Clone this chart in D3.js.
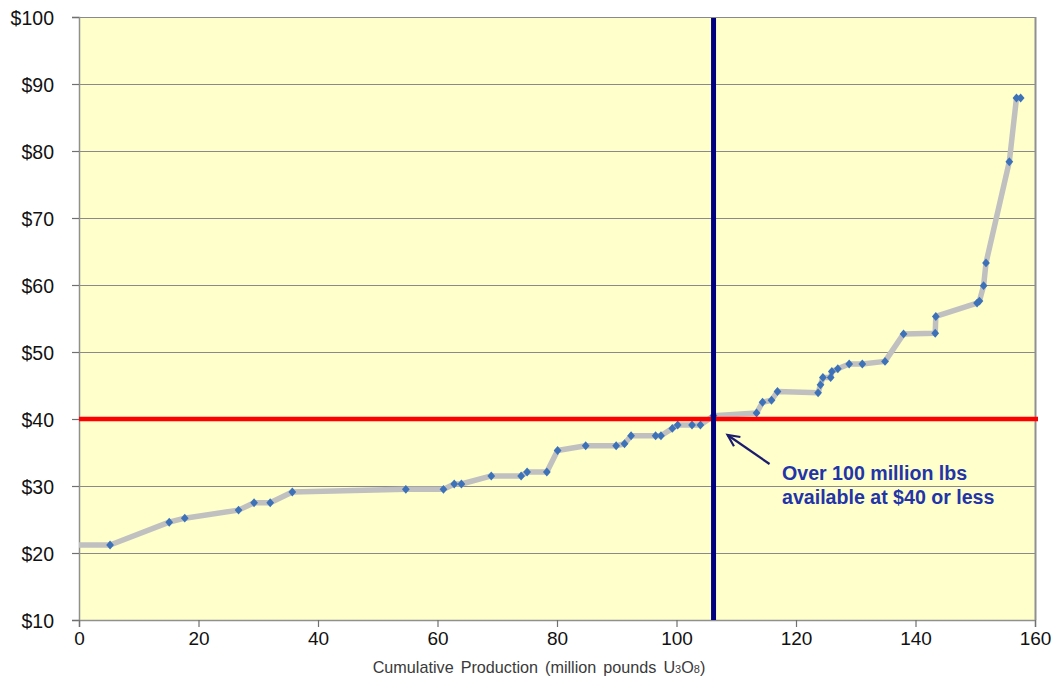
<!DOCTYPE html>
<html>
<head>
<meta charset="utf-8">
<script src="https://cdn.jsdelivr.net/npm/d3@7"></script>
<style>
  html, body { margin: 0; padding: 0; background: #fff; }
  svg { display: block; font-family: "Liberation Sans", Arial, sans-serif; }
</style>
</head>
<body>
<svg id="chart" width="1055" height="678"></svg>
<script>
// ---- data ----
const production = [0, 5.2, 15.1, 17.7, 26.7, 29.3, 32.0, 35.7, 54.7, 61.0, 62.8, 64.0, 69.0, 74.0, 75.0, 78.3, 80.1, 84.8, 89.9, 91.3, 92.4, 96.5, 97.4, 99.3, 100.2, 102.6, 104.0, 106.2, 113.4, 114.4, 115.9, 116.9, 123.7, 124.1, 124.5, 125.8, 126.0, 127.0, 128.9, 131.1, 134.9, 138.0, 143.3, 143.4, 150.3, 150.7, 151.4, 151.8, 155.7, 156.9, 157.6];
const cost       = [21.2, 21.2, 24.6, 25.2, 26.4, 27.5, 27.5, 29.1, 29.5, 29.5, 30.3, 30.3, 31.5, 31.5, 32.1, 32.1, 35.3, 36.0, 36.0, 36.3, 37.5, 37.5, 37.5, 38.6, 39.1, 39.1, 39.1, 40.5, 40.9, 42.5, 42.8, 44.1, 43.9, 45.1, 46.2, 46.2, 47.1, 47.5, 48.2, 48.2, 48.6, 52.7, 52.8, 55.3, 57.3, 57.6, 59.9, 63.3, 78.4, 87.9, 87.9];
const markerShown = production.map((d, i) => i > 0);
const xTicks = [0, 20, 40, 60, 80, 100, 120, 140, 160];
const yTicks = [10, 20, 30, 40, 50, 60, 70, 80, 90, 100];
const thresholdPrice = 40;
const thresholdProduction = 106.2;
const annotationLines = ["Over 100 million lbs", "available at $40 or less"];

// ---- layout ----
const svg = d3.select("#chart");
const mLeft = 79, mRight = 1035, mTop = 17, mBottom = 620;
const x = d3.scaleLinear().domain([0, 160]).range([mLeft, mRight]);
const y = d3.scaleLinear().domain([10, 100]).range([mBottom, mTop]);

// plot background
svg.append("rect").attr("x", mLeft).attr("y", mTop)
  .attr("width", mRight - mLeft).attr("height", mBottom - mTop)
  .attr("fill", "#FFFFCC");

// gridlines
svg.append("g").selectAll("line").data(yTicks.filter(d => d > 10)).join("line")
  .attr("x1", mLeft).attr("x2", mRight)
  .attr("y1", d => y(d) + 0.5).attr("y2", d => y(d) + 0.5)
  .attr("stroke", "#8a8a8a").attr("stroke-width", 1.2);

// right border
svg.append("line").attr("x1", mRight + 0.5).attr("x2", mRight + 0.5)
  .attr("y1", mTop).attr("y2", mBottom)
  .attr("stroke", "#909090").attr("stroke-width", 2);

// y axis
const yAxis = d3.axisLeft(y).tickValues(yTicks).tickSize(7).tickPadding(18)
  .tickFormat(d => "$" + d);
const gy = svg.append("g").attr("transform", `translate(${mLeft},0)`).call(yAxis);
gy.select(".domain").attr("stroke", "#909090").attr("stroke-width", 1.5);
gy.selectAll(".tick line").attr("stroke", "#707070").attr("stroke-width", 1.2);
gy.selectAll(".tick text").attr("font-size", 19.5).attr("fill", "#111")
  .attr("font-family", "'Liberation Sans', Arial, sans-serif").attr("dy", "0.38em");

// x axis
const xAxis = d3.axisBottom(x).tickValues(xTicks).tickSize(7).tickPadding(5);
const gx = svg.append("g").attr("transform", `translate(0,${mBottom})`).call(xAxis);
gx.select(".domain").attr("stroke", "#909090").attr("stroke-width", 1.5);
gx.selectAll(".tick line").attr("stroke", "#707070").attr("stroke-width", 1.2);
gx.selectAll(".tick text").attr("font-size", 19).attr("fill", "#111")
  .attr("font-family", "'Liberation Sans', Arial, sans-serif");

// x axis title with subscripts
const title = svg.append("text").attr("x", 539).attr("y", 673)
  .attr("text-anchor", "middle").attr("font-size", 16.2).attr("fill", "#3a3a3a")
  .attr("word-spacing", "2.5px");
title.append("tspan").text("Cumulative Production (million pounds U");
title.append("tspan").attr("font-size", 11).text("3");
title.append("tspan").text("O");
title.append("tspan").attr("font-size", 11).text("8");
title.append("tspan").text(")");

// data
const data = production.map((p, i) => ({ p, c: cost[i], m: markerShown[i] }));

// series line
svg.append("path").datum(data)
  .attr("fill", "none").attr("stroke", "#c0c0c0").attr("stroke-width", 5.5)
  .attr("stroke-linejoin", "round")
  .attr("d", d3.line().x(d => x(d.p)).y(d => y(d.c)));

// markers (diamonds)
svg.append("g").selectAll("path").data(data.filter(d => d.m)).join("path")
  .attr("transform", d => `translate(${x(d.p)},${y(d.c)}) scale(1,1.15) rotate(45)`)
  .attr("d", d3.symbol().type(d3.symbolSquare).size(30))
  .attr("fill", "#3d72b8");

// red threshold line
svg.append("line").attr("x1", mLeft).attr("x2", mRight + 3)
  .attr("y1", y(thresholdPrice)).attr("y2", y(thresholdPrice))
  .attr("stroke", "#ff0000").attr("stroke-width", 4.5);

// navy vertical line
svg.append("line").attr("x1", x(thresholdProduction)).attr("x2", x(thresholdProduction))
  .attr("y1", mTop + 1).attr("y2", mBottom)
  .attr("stroke", "#000080").attr("stroke-width", 5);

// arrow annotation
const ax0 = x(thresholdProduction) + 56, ay0 = y(thresholdPrice) + 45;
const ax1 = x(thresholdProduction) + 14, ay1 = y(thresholdPrice) + 16;
svg.append("line").attr("x1", ax0).attr("y1", ay0).attr("x2", ax1).attr("y2", ay1)
  .attr("stroke", "#1c1c6e").attr("stroke-width", 2.2);
const ang = Math.atan2(ay0 - ay1, ax0 - ax1);
const hl = 13, spread = 0.45;
svg.append("path")
  .attr("d", `M${ax1 + hl * Math.cos(ang - spread)},${ay1 + hl * Math.sin(ang - spread)} L${ax1},${ay1} L${ax1 + hl * Math.cos(ang + spread)},${ay1 + hl * Math.sin(ang + spread)}`)
  .attr("fill", "none").attr("stroke", "#1c1c6e").attr("stroke-width", 2.2)
  .attr("stroke-linejoin", "miter");

// annotation text
svg.append("g").selectAll("text").data(annotationLines).join("text")
  .attr("x", 782).attr("y", (d, i) => 480 + i * 23.5)
  .attr("font-size", 19.6).attr("font-weight", "bold").attr("fill", "#2234a8")
  .text(d => d);
</script>
</body>
</html>
